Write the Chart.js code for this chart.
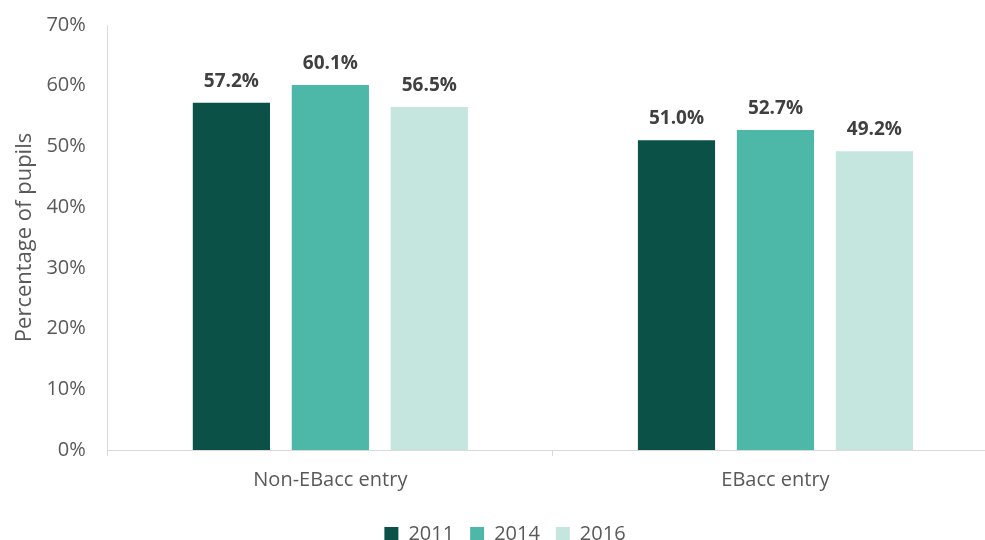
<!DOCTYPE html>
<html>
<head>
<meta charset="utf-8">
<script src="https://cdn.jsdelivr.net/npm/chart.js@4/dist/chart.umd.min.js"></script>
<style>
  html, body { margin: 0; padding: 0; background: #fff; overflow: hidden; }
  #wrap { position: relative; width: 998px; height: 540px; }
</style>
</head>
<body>
<div id="wrap"><canvas id="c"></canvas></div>
<script>
const categories = ["Non-EBacc entry", "EBacc entry"];
const seriesNames = ["2011", "2014", "2016"];
const values2011 = [57.2, 51.0];
const values2014 = [60.1, 52.7];
const values2016 = [56.5, 49.2];
const yTicks = [0, 10, 20, 30, 40, 50, 60, 70];
const colors = ["#0b5148", "#4db8a8", "#c4e6df"];

const FONT = "'Open Sans', sans-serif";

const labelPlugin = {
  id: 'barLabels',
  afterDatasetsDraw(chart) {
    const ctx = chart.ctx;
    ctx.save();
    ctx.font = "bold 19px " + FONT;
    ctx.fillStyle = "#404040";
    ctx.textAlign = "center";
    ctx.textBaseline = "bottom";
    chart.data.datasets.forEach((ds, i) => {
      const meta = chart.getDatasetMeta(i);
      meta.data.forEach((el, j) => {
        ctx.fillText(ds.data[j].toFixed(1) + "%", el.x, el.y - 12);
      });
    });
    ctx.restore();
  }
};

new Chart(document.getElementById('c'), {
  type: 'bar',
  data: {
    labels: categories,
    datasets: [
      { label: seriesNames[0], data: values2011, backgroundColor: colors[0] },
      { label: seriesNames[1], data: values2014, backgroundColor: colors[1] },
      { label: seriesNames[2], data: values2016, backgroundColor: colors[2] }
    ]
  },
  options: {
    responsive: true,
    maintainAspectRatio: false,
    animation: false,
    layout: { padding: { top: 25, right: 0, left: 12, bottom: -14 } },
    datasets: { bar: { categoryPercentage: 0.667, barPercentage: 0.78 } },
    plugins: {
      legend: {
        position: 'bottom',
        labels: {
          boxWidth: 14, boxHeight: 14, padding: 16,
          color: "#595959",
          font: { family: FONT, size: 20 }
        }
      },
      tooltip: { enabled: false }
    },
    scales: {
      x: {
        grid: { display: true, drawOnChartArea: false, offset: true, color: "#d9d9d9", tickLength: 6 },
        border: { display: true, color: "#d9d9d9", width: 1 },
        ticks: { color: "#595959", font: { family: FONT, size: 20 }, padding: 12 },
        afterFit(scale) { scale.height += 4; }
      },
      y: {
        min: 0, max: 70,
        afterBuildTicks(axis) { axis.ticks = yTicks.map(v => ({ value: v })); },
        afterFit(scale) { scale.paddingTop = 0; },
        grid: { display: false, drawTicks: false },
        border: { display: true, color: "#d9d9d9", width: 1 },
        ticks: {
          color: "#595959", font: { family: FONT, size: 20 }, padding: 22,
          callback: v => v + "%"
        },
        title: {
          display: true, text: "Percentage of pupils", color: "#595959",
          font: { family: FONT, size: 22 }, padding: { top: 0, bottom: -14 }
        }
      }
    }
  },
  plugins: [labelPlugin]
});
</script>
</body>
</html>
